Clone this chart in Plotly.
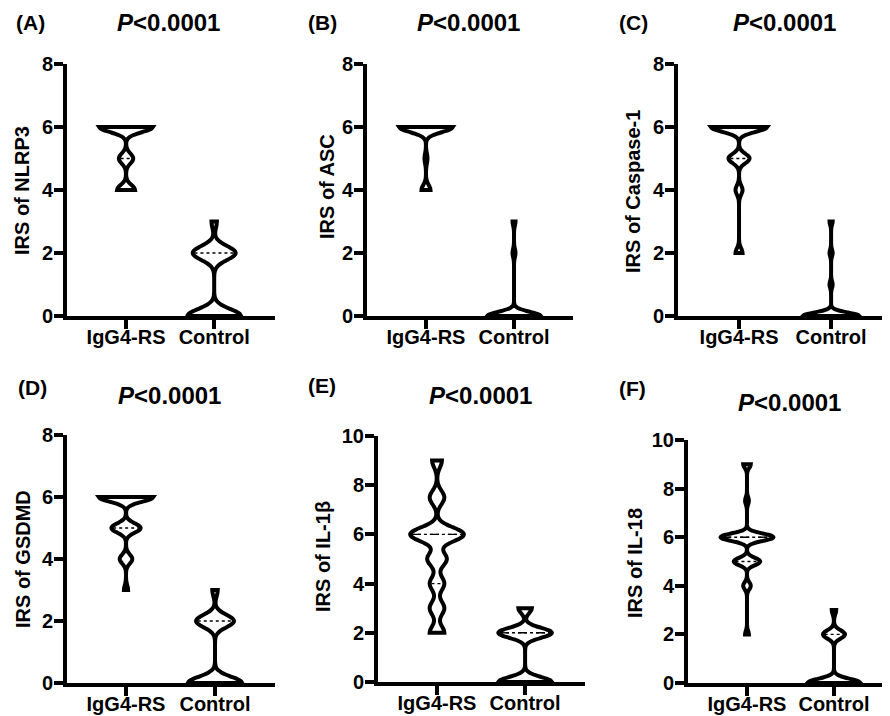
import numpy as np
import plotly.graph_objects as go

# ---------------- data ----------------
categories = ["IgG4-RS", "Control"]
panel_labels = ["(A)", "(B)", "(C)", "(D)", "(E)", "(F)"]
y_titles = ["IRS of NLRP3", "IRS of ASC", "IRS of Caspase-1",
            "IRS of GSDMD", "IRS of IL-1β", "IRS of IL-18"]
p_label = "<i>P</i>&lt;0.0001"
y_max = [8, 8, 8, 8, 10, 10]

# score values and number of cases with that score
A_igg_vals, A_igg_n = [4, 5, 6], [5, 4, 15]
A_ctl_vals, A_ctl_n = [0, 2, 3], [10, 8, 1]
B_igg_vals, B_igg_n = [4, 5, 6], [3, 1, 18]
B_ctl_vals, B_ctl_n = [0, 2, 3], [18, 1, 1]
C_igg_vals, C_igg_n = [2, 4, 5, 6], [2, 2, 6, 16]
C_ctl_vals, C_ctl_n = [0, 1, 2, 3], [18, 1, 1, 1]
D_igg_vals, D_igg_n = [3, 4, 5, 6], [1, 3, 7, 13]
D_ctl_vals, D_ctl_n = [0, 2, 3], [10, 7, 1]
E_igg_vals, E_igg_n = [2, 3, 4, 5, 6, 7.5, 9], [3, 3, 3, 4, 11, 3, 2]
E_ctl_vals, E_ctl_n = [0, 2, 3], [8, 8, 2]
F_igg_vals, F_igg_n = [2, 4, 5, 6, 7.5, 9], [1, 2, 7, 14, 1, 2]
F_ctl_vals, F_ctl_n = [0, 2, 3], [12, 5, 1]

panels = [
    (A_igg_vals, A_igg_n, A_ctl_vals, A_ctl_n),
    (B_igg_vals, B_igg_n, B_ctl_vals, B_ctl_n),
    (C_igg_vals, C_igg_n, C_ctl_vals, C_ctl_n),
    (D_igg_vals, D_igg_n, D_ctl_vals, D_ctl_n),
    (E_igg_vals, E_igg_n, E_ctl_vals, E_ctl_n),
    (F_igg_vals, F_igg_n, F_ctl_vals, F_ctl_n),
]

# ---------------- styling / layout ----------------
W, H = 890, 716
OFF = 8  # page body margin of the browser
FONT = "Liberation Sans, Arial, sans-serif"
bandwidths = [(0.16, 0.22), (0.16, 0.13), (0.15, 0.11),
              (0.15, 0.20), (0.28, 0.20), (0.15, 0.17)]
VW = 0.61  # violin width in category units


def px(x):
    return (x - OFF) / W


def py(y):
    return 1 - (y - OFF) / H


# pixel geometry of each plot area (screen px): (x_left, x_right, y_top, y_bottom, x_range)
geo = [
    (67, 275, 64, 316, [-0.67, 1.69]),
    (367, 573, 64, 316, [-0.67, 1.67]),
    (678, 890, 64, 316, [-0.663, 1.64]),
    (67, 275, 435, 683, [-0.663, 1.674]),
    (378, 585, 436, 682, [-0.67, 1.68]),
    (688, 890, 440, 683, [-0.678, 1.644]),
]
label_pos = [(14, 23), (306, 23), (617, 23), (16, 387), (306, 385), (617, 388)]
title_pos = [(168, 23), (468, 23), (784, 23), (169, 395), (480, 395), (789, 402)]
ytitle_pos = [(22, 191), (327, 187), (633, 192), (23, 559), (323, 557), (635, 563)]


def kde(samples, bw, t):
    t = np.atleast_1d(np.asarray(t, dtype=float))
    return np.exp(-0.5 * ((t[None, :] - samples[:, None]) / bw) ** 2).sum(axis=0)


fig = go.Figure()
annotations = []
layout_axes = {}

for i, (iv, inn, cv, cn) in enumerate(panels):
    k = "" if i == 0 else str(i + 1)
    xa, ya = "x" + k, "y" + k
    groups = [np.repeat(np.array(iv, float), inn), np.repeat(np.array(cv, float), cn)]
    for j, samples in enumerate(groups):
        bw = bandwidths[i][j]
        fig.add_trace(go.Violin(
            x0=j, y=samples, xaxis=xa, yaxis=ya,
            bandwidth=bw, spanmode="hard", width=VW,
            points=False, fillcolor="white",
            line=dict(color="black", width=4),
            box=dict(visible=False), meanline=dict(visible=False),
            hoverinfo="skip", showlegend=False,
        ))
        # quartile (dotted) and median (dashed) lines
        grid = np.linspace(samples.min(), samples.max(), 600)
        dmax = kde(samples, bw, grid).max()
        q1, med, q3 = np.percentile(samples, [25, 50, 75], method="weibull")
        for q, dash in ((q1, "dot"), (q3, "dot"), (med, "dash")):
            if q <= samples.min() or q >= samples.max():
                continue
            hw = VW / 2 * kde(samples, bw, q)[0] / dmax - 0.02
            if hw <= 0.01:
                continue
            fig.add_trace(go.Scatter(
                x=[j - hw, j + hw], y=[q, q], xaxis=xa, yaxis=ya,
                mode="lines", line=dict(color="black", width=1.4, dash=dash),
                hoverinfo="skip", showlegend=False,
            ))

    xl, xr, yt, yb, xr_range = geo[i]
    axis_common = dict(
        showline=True, linecolor="black", linewidth=4,
        ticks="outside", ticklen=9, tickwidth=3.5, tickcolor="black",
        showgrid=False, zeroline=False, fixedrange=True, automargin=False,
    )
    yticks = list(range(0, y_max[i] + 1, 2))
    layout_axes["xaxis" + k] = dict(
        axis_common, domain=[px(xl), min(px(xr), 1.0)], range=xr_range,
        tickvals=[0, 1], ticktext=["<b>" + c + "</b>" for c in categories],
        anchor=ya, tickfont=dict(family=FONT, size=20, color="black"),
        ticklabelstandoff=-9,
    )
    layout_axes["yaxis" + k] = dict(
        axis_common, domain=[py(yb), py(yt)], range=[0, y_max[i]],
        tickvals=yticks, ticktext=["<b>%d</b>" % v for v in yticks],
        anchor=xa, tickfont=dict(family=FONT, size=20, color="black"),
        ticklabelstandoff=-3,
    )

    lx, ly = label_pos[i]
    annotations.append(dict(
        text="<b>" + panel_labels[i] + "</b>", x=px(lx), y=py(ly),
        xref="paper", yref="paper", xanchor="left", yanchor="middle",
        showarrow=False, font=dict(family=FONT, size=21, color="black"),
    ))
    tx, ty = title_pos[i]
    annotations.append(dict(
        text="<b>" + p_label + "</b>", x=px(tx), y=py(ty),
        xref="paper", yref="paper", xanchor="center", yanchor="middle",
        showarrow=False, font=dict(family=FONT, size=24, color="black"),
    ))
    yx, yy = ytitle_pos[i]
    annotations.append(dict(
        text="<b>" + y_titles[i] + "</b>", x=px(yx), y=py(yy),
        xref="paper", yref="paper", xanchor="center", yanchor="middle",
        textangle=-90, showarrow=False,
        font=dict(family=FONT, size=20, color="black"),
    ))

fig.update_layout(
    width=W, height=H,
    margin=dict(l=0, r=0, t=0, b=0, pad=0, autoexpand=False),
    paper_bgcolor="white", plot_bgcolor="white",
    showlegend=False, annotations=annotations, **layout_axes,
)

fig.write_html("out.html")
